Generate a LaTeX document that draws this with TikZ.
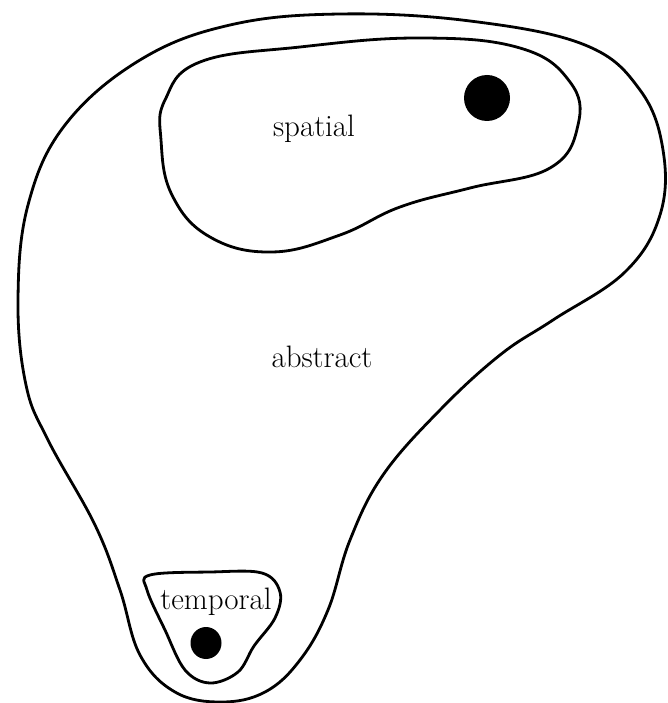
\documentclass[tikz,border=0pt]{standalone}
\begin{document}
\begin{tikzpicture}[x=1pt,y=-1pt,
  blob/.style={line width=2.8pt, line join=round},
  dot/.style={fill=black},
  lbl/.style={font=\fontsize{31}{36}\selectfont, inner sep=0pt}]
\useasboundingbox (0,0) rectangle (667,703);
% outer (abstract)
\draw[blob] plot[smooth cycle, tension=0.65] coordinates {
 (340,14) (470,21) (585,45) (640,90) (663,150) (660,215) (625,272) (553,320)
 (500,355) (440,410) (383,475) (350,540) (328,610) (300,660) (265,692)
 (221,702) (175,692) (140,655) (120,590) (95,525) (48,440) (26,385)
 (18,300) (28,205) (65,125) (140,60) (230,25)};
% spatial
\draw[blob] plot[smooth cycle, tension=0.7] coordinates {
 (165,100) (200,62) (300,47) (420,38) (520,48) (570,82) (578,125)
 (550,168) (470,188) (400,207) (340,235) (272,252) (210,237)
 (172,195) (161,140)};
% temporal
\draw[blob] plot[smooth cycle, tension=0.6] coordinates {
 (150,575) (210,572) (262,573) (280,592) (275,618) (254,646) (238,672)
 (210,683) (185,670) (165,630) (147,590)};
\fill[dot] (487,98) ellipse [x radius=23, y radius=23];
\fill[dot] (206,643) ellipse [x radius=15.5, y radius=16];
\node[lbl] (spatial) at (314,129) {spatial};
\node[lbl] (abstract) at (322,357) {abstract};
\node[lbl] (temporal) at (216,602) {temporal};
\end{tikzpicture}
\end{document}
